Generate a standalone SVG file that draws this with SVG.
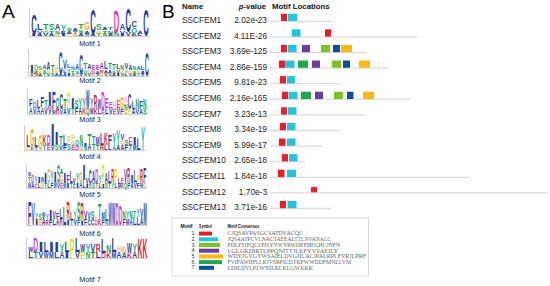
<svg xmlns="http://www.w3.org/2000/svg" width="550" height="286" viewBox="0 0 550 286">
<style>
.logo text{font-family:"Liberation Sans",Arial,sans-serif;font-weight:bold}
.b{fill:#1f3caa}.g{fill:#16a14d}.m{fill:#d03cbe}.r{fill:#e3242b}.o{fill:#f2a61c}.y{fill:#e6dd1c}.t{fill:#22b5a8}.p{fill:#f5b5c6}
.panel{font-family:"Liberation Sans",Arial,sans-serif;font-size:19px;fill:#000}
.logo text.mlab{font-family:"Liberation Sans",Arial,sans-serif;font-size:7.2px;font-weight:normal;fill:#222;text-anchor:middle}
.hdr{font-family:"Liberation Sans",Arial,sans-serif;font-size:7.8px;font-weight:bold;fill:#111}
.nm{font-family:"Liberation Sans",Arial,sans-serif;font-size:8.3px;fill:#222}
.pv{font-family:"Liberation Sans",Arial,sans-serif;font-size:8.3px;fill:#222;text-anchor:end}
.trk{stroke:#dcdcdc;stroke-width:1.3}
.ax{stroke:#9a9a9a;stroke-width:0.5;fill:none}
.lh{font-family:"Liberation Sans",Arial,sans-serif;font-size:5.4px;font-weight:bold;fill:#111}
.ln{font-family:"Liberation Sans",Arial,sans-serif;font-size:5.4px;fill:#333;text-anchor:end}
.lc{font-family:"Liberation Serif","Times New Roman",serif;font-size:6px;fill:#666}
.c1{fill:#ee1c25}.c2{fill:#22c6dc}.c3{fill:#7cc31f}.c4{fill:#6b3fa0}.c5{fill:#fdb913}.c6{fill:#20a84a}.c7{fill:#0b4ea2}
</style>

<text class="panel" x="2" y="18">A</text>
<text class="panel" x="162" y="18">B</text>

<g id="logo-axes">
<path class="ax" d="M29.5 8V36.5H150M28.5 50V76.5H150M27.5 88V114.5H148M24.5 125V150.5H146M26.5 164V188.5H147M26.5 201V225.5H148M26.5 238V258.5H148"/>
</g>

<g id="motif1" class="logo">
<g transform="translate(31,36) scale(0.983,1)">
<text class="b" x="0.2" y="0" font-size="2.8" textLength="5.6" lengthAdjust="spacingAndGlyphs">I</text>
<text class="b" x="0.2" y="-2.3" font-size="28" textLength="5.6" lengthAdjust="spacingAndGlyphs">C</text>
<text class="b" x="6.2" y="0" font-size="2.8" textLength="5.6" lengthAdjust="spacingAndGlyphs">A</text>
<text class="b" x="6.2" y="-2.3" font-size="4.2" textLength="5.6" lengthAdjust="spacingAndGlyphs">V</text>
<text class="b" x="6.2" y="-5.6" font-size="8.4" textLength="5.6" lengthAdjust="spacingAndGlyphs">L</text>
<text class="b" x="12.2" y="0" font-size="2.8" textLength="5.6" lengthAdjust="spacingAndGlyphs">V</text>
<text class="g" x="12.2" y="-2.3" font-size="4.2" textLength="5.6" lengthAdjust="spacingAndGlyphs">Q</text>
<text class="g" x="12.2" y="-5.6" font-size="9.8" textLength="5.6" lengthAdjust="spacingAndGlyphs">T</text>
<text class="b" x="18.2" y="0" font-size="2.8" textLength="5.6" lengthAdjust="spacingAndGlyphs">A</text>
<text class="g" x="18.2" y="-2.3" font-size="4.2" textLength="5.6" lengthAdjust="spacingAndGlyphs">T</text>
<text class="g" x="18.2" y="-5.6" font-size="9.8" textLength="5.6" lengthAdjust="spacingAndGlyphs">S</text>
<text class="o" x="24.2" y="0" font-size="2.8" textLength="5.6" lengthAdjust="spacingAndGlyphs">G</text>
<text class="g" x="24.2" y="-2.3" font-size="4.2" textLength="5.6" lengthAdjust="spacingAndGlyphs">S</text>
<text class="b" x="24.2" y="-5.6" font-size="9.8" textLength="5.6" lengthAdjust="spacingAndGlyphs">A</text>
<text class="b" x="30.2" y="0" font-size="2.8" textLength="5.6" lengthAdjust="spacingAndGlyphs">I</text>
<text class="b" x="30.2" y="-2.3" font-size="2.8" textLength="5.6" lengthAdjust="spacingAndGlyphs">F</text>
<text class="t" x="30.2" y="-4.6" font-size="8.4" textLength="5.6" lengthAdjust="spacingAndGlyphs">Y</text>
<text class="y" x="36.2" y="0" font-size="2.8" textLength="5.6" lengthAdjust="spacingAndGlyphs">P</text>
<text class="b" x="36.2" y="-2.3" font-size="2.8" textLength="5.6" lengthAdjust="spacingAndGlyphs">A</text>
<text class="g" x="36.2" y="-4.6" font-size="4.2" textLength="5.6" lengthAdjust="spacingAndGlyphs">S</text>
<text class="o" x="42.2" y="0" font-size="2.8" textLength="5.6" lengthAdjust="spacingAndGlyphs">G</text>
<text class="g" x="42.2" y="-2.3" font-size="2.8" textLength="5.6" lengthAdjust="spacingAndGlyphs">T</text>
<text class="b" x="42.2" y="-4.6" font-size="4.2" textLength="5.6" lengthAdjust="spacingAndGlyphs">A</text>
<text class="b" x="48.2" y="0" font-size="4.2" textLength="5.6" lengthAdjust="spacingAndGlyphs">A</text>
<text class="g" x="48.2" y="-3.3" font-size="4.2" textLength="5.6" lengthAdjust="spacingAndGlyphs">S</text>
<text class="g" x="48.2" y="-6.6" font-size="7" textLength="5.6" lengthAdjust="spacingAndGlyphs">T</text>
<text class="g" x="54.2" y="0" font-size="2.8" textLength="5.6" lengthAdjust="spacingAndGlyphs">S</text>
<text class="b" x="54.2" y="-2.3" font-size="4.2" textLength="5.6" lengthAdjust="spacingAndGlyphs">A</text>
<text class="o" x="54.2" y="-5.6" font-size="11.2" textLength="5.6" lengthAdjust="spacingAndGlyphs">G</text>
<text class="b" x="60.2" y="0" font-size="2.8" textLength="5.6" lengthAdjust="spacingAndGlyphs">A</text>
<text class="b" x="60.2" y="-2.3" font-size="35" textLength="5.6" lengthAdjust="spacingAndGlyphs">C</text>
<text class="g" x="66.2" y="0" font-size="2.8" textLength="5.6" lengthAdjust="spacingAndGlyphs">T</text>
<text class="o" x="66.2" y="-2.3" font-size="4.2" textLength="5.6" lengthAdjust="spacingAndGlyphs">G</text>
<text class="g" x="66.2" y="-5.6" font-size="8.4" textLength="5.6" lengthAdjust="spacingAndGlyphs">S</text>
<text class="g" x="72.2" y="0" font-size="2.8" textLength="5.6" lengthAdjust="spacingAndGlyphs">S</text>
<text class="g" x="72.2" y="-2.3" font-size="4.2" textLength="5.6" lengthAdjust="spacingAndGlyphs">T</text>
<text class="b" x="72.2" y="-5.6" font-size="4.2" textLength="5.6" lengthAdjust="spacingAndGlyphs">A</text>
<text class="b" x="78.2" y="0" font-size="2.8" textLength="5.6" lengthAdjust="spacingAndGlyphs">A</text>
<text class="g" x="78.2" y="-2.3" font-size="4.2" textLength="5.6" lengthAdjust="spacingAndGlyphs">N</text>
<text class="g" x="78.2" y="-5.6" font-size="4.2" textLength="5.6" lengthAdjust="spacingAndGlyphs">T</text>
<text class="g" x="84.2" y="0" font-size="4.2" textLength="5.6" lengthAdjust="spacingAndGlyphs">N</text>
<text class="m" x="84.2" y="-3.3" font-size="30.8" textLength="5.6" lengthAdjust="spacingAndGlyphs">D</text>
<text class="b" x="90.2" y="0" font-size="2.8" textLength="5.6" lengthAdjust="spacingAndGlyphs">I</text>
<text class="b" x="90.2" y="-2.3" font-size="4.2" textLength="5.6" lengthAdjust="spacingAndGlyphs">V</text>
<text class="b" x="90.2" y="-5.6" font-size="8.4" textLength="5.6" lengthAdjust="spacingAndGlyphs">A</text>
<text class="b" x="96.2" y="0" font-size="5.6" textLength="5.6" lengthAdjust="spacingAndGlyphs">V</text>
<text class="b" x="96.2" y="-4.3" font-size="33.6" textLength="5.6" lengthAdjust="spacingAndGlyphs">C</text>
<text class="b" x="102.2" y="0" font-size="4.2" textLength="5.6" lengthAdjust="spacingAndGlyphs">L</text>
<text class="g" x="102.2" y="-3.3" font-size="7" textLength="5.6" lengthAdjust="spacingAndGlyphs">Q</text>
<text class="b" x="102.2" y="-8.6" font-size="8.4" textLength="5.6" lengthAdjust="spacingAndGlyphs">C</text>
<text class="b" x="108.2" y="0" font-size="2.8" textLength="5.6" lengthAdjust="spacingAndGlyphs">L</text>
<text class="b" x="108.2" y="-2.3" font-size="4.2" textLength="5.6" lengthAdjust="spacingAndGlyphs">A</text>
<text class="b" x="114.2" y="0" font-size="36.4" textLength="5.6" lengthAdjust="spacingAndGlyphs">C</text>
</g>
<text class="mlab" x="90" y="46">Motif 1</text>
</g>

<g id="motif2" class="logo">
<g transform="translate(30,76) scale(0.683,1)">
<text class="b" x="0.2" y="0" font-size="4.2" textLength="5.6" lengthAdjust="spacingAndGlyphs">V</text>
<text class="b" x="0.2" y="-3.3" font-size="11.2" textLength="5.6" lengthAdjust="spacingAndGlyphs">I</text>
<text class="g" x="6.2" y="0" font-size="2.8" textLength="5.6" lengthAdjust="spacingAndGlyphs">N</text>
<text class="r" x="6.2" y="-2.3" font-size="4.2" textLength="5.6" lengthAdjust="spacingAndGlyphs">K</text>
<text class="g" x="6.2" y="-5.6" font-size="7" textLength="5.6" lengthAdjust="spacingAndGlyphs">Q</text>
<text class="b" x="12.2" y="0" font-size="2.8" textLength="5.6" lengthAdjust="spacingAndGlyphs">A</text>
<text class="o" x="12.2" y="-2.3" font-size="4.2" textLength="5.6" lengthAdjust="spacingAndGlyphs">G</text>
<text class="g" x="12.2" y="-5.6" font-size="5.6" textLength="5.6" lengthAdjust="spacingAndGlyphs">S</text>
<text class="g" x="18.2" y="0" font-size="4.2" textLength="5.6" lengthAdjust="spacingAndGlyphs">T</text>
<text class="g" x="18.2" y="-3.3" font-size="4.2" textLength="5.6" lengthAdjust="spacingAndGlyphs">S</text>
<text class="b" x="18.2" y="-6.6" font-size="5.6" textLength="5.6" lengthAdjust="spacingAndGlyphs">A</text>
<text class="b" x="24.2" y="0" font-size="2.8" textLength="5.6" lengthAdjust="spacingAndGlyphs">V</text>
<text class="o" x="24.2" y="-2.3" font-size="4.2" textLength="5.6" lengthAdjust="spacingAndGlyphs">G</text>
<text class="b" x="24.2" y="-5.6" font-size="11.2" textLength="5.6" lengthAdjust="spacingAndGlyphs">A</text>
<text class="g" x="30.2" y="0" font-size="4.2" textLength="5.6" lengthAdjust="spacingAndGlyphs">S</text>
<text class="g" x="30.2" y="-3.3" font-size="11.2" textLength="5.6" lengthAdjust="spacingAndGlyphs">T</text>
<text class="b" x="36.2" y="0" font-size="2.8" textLength="5.6" lengthAdjust="spacingAndGlyphs">A</text>
<text class="y" x="36.2" y="-2.3" font-size="4.2" textLength="5.6" lengthAdjust="spacingAndGlyphs">P</text>
<text class="o" x="36.2" y="-5.6" font-size="4.2" textLength="5.6" lengthAdjust="spacingAndGlyphs">G</text>
<text class="b" x="42.2" y="0" font-size="2.8" textLength="5.6" lengthAdjust="spacingAndGlyphs">A</text>
<text class="b" x="42.2" y="-2.3" font-size="30.8" textLength="5.6" lengthAdjust="spacingAndGlyphs">C</text>
<text class="b" x="48.2" y="0" font-size="4.2" textLength="5.6" lengthAdjust="spacingAndGlyphs">A</text>
<text class="b" x="48.2" y="-3.3" font-size="4.2" textLength="5.6" lengthAdjust="spacingAndGlyphs">L</text>
<text class="b" x="48.2" y="-6.6" font-size="12.6" textLength="5.6" lengthAdjust="spacingAndGlyphs">V</text>
<text class="b" x="54.2" y="0" font-size="4.2" textLength="5.6" lengthAdjust="spacingAndGlyphs">I</text>
<text class="t" x="54.2" y="-3.3" font-size="5.6" textLength="5.6" lengthAdjust="spacingAndGlyphs">Y</text>
<text class="b" x="54.2" y="-7.6" font-size="5.6" textLength="5.6" lengthAdjust="spacingAndGlyphs">L</text>
<text class="g" x="60.2" y="0" font-size="2.8" textLength="5.6" lengthAdjust="spacingAndGlyphs">S</text>
<text class="g" x="60.2" y="-2.3" font-size="4.2" textLength="5.6" lengthAdjust="spacingAndGlyphs">T</text>
<text class="g" x="60.2" y="-5.6" font-size="5.6" textLength="5.6" lengthAdjust="spacingAndGlyphs">N</text>
<text class="o" x="66.2" y="0" font-size="2.8" textLength="5.6" lengthAdjust="spacingAndGlyphs">G</text>
<text class="g" x="66.2" y="-2.3" font-size="4.2" textLength="5.6" lengthAdjust="spacingAndGlyphs">S</text>
<text class="b" x="66.2" y="-5.6" font-size="9.8" textLength="5.6" lengthAdjust="spacingAndGlyphs">A</text>
<text class="b" x="72.2" y="0" font-size="2.8" textLength="5.6" lengthAdjust="spacingAndGlyphs">V</text>
<text class="b" x="72.2" y="-2.3" font-size="28" textLength="5.6" lengthAdjust="spacingAndGlyphs">C</text>
<text class="g" x="78.2" y="0" font-size="4.2" textLength="5.6" lengthAdjust="spacingAndGlyphs">S</text>
<text class="g" x="78.2" y="-3.3" font-size="4.2" textLength="5.6" lengthAdjust="spacingAndGlyphs">Q</text>
<text class="g" x="78.2" y="-6.6" font-size="8.4" textLength="5.6" lengthAdjust="spacingAndGlyphs">T</text>
<text class="b" x="84.2" y="0" font-size="4.2" textLength="5.6" lengthAdjust="spacingAndGlyphs">V</text>
<text class="o" x="84.2" y="-3.3" font-size="4.2" textLength="5.6" lengthAdjust="spacingAndGlyphs">G</text>
<text class="b" x="84.2" y="-6.6" font-size="7" textLength="5.6" lengthAdjust="spacingAndGlyphs">A</text>
<text class="o" x="90.2" y="0" font-size="2.8" textLength="5.6" lengthAdjust="spacingAndGlyphs">G</text>
<text class="m" x="90.2" y="-2.3" font-size="4.2" textLength="5.6" lengthAdjust="spacingAndGlyphs">D</text>
<text class="m" x="90.2" y="-5.6" font-size="7" textLength="5.6" lengthAdjust="spacingAndGlyphs">E</text>
<text class="g" x="96.2" y="0" font-size="2.8" textLength="5.6" lengthAdjust="spacingAndGlyphs">S</text>
<text class="b" x="96.2" y="-2.3" font-size="4.2" textLength="5.6" lengthAdjust="spacingAndGlyphs">A</text>
<text class="m" x="96.2" y="-5.6" font-size="7" textLength="5.6" lengthAdjust="spacingAndGlyphs">E</text>
<text class="o" x="102.2" y="0" font-size="4.2" textLength="5.6" lengthAdjust="spacingAndGlyphs">G</text>
<text class="r" x="102.2" y="-3.3" font-size="4.2" textLength="5.6" lengthAdjust="spacingAndGlyphs">R</text>
<text class="b" x="102.2" y="-6.6" font-size="9.8" textLength="5.6" lengthAdjust="spacingAndGlyphs">A</text>
<text class="b" x="108.2" y="0" font-size="4.2" textLength="5.6" lengthAdjust="spacingAndGlyphs">V</text>
<text class="b" x="108.2" y="-3.3" font-size="4.2" textLength="5.6" lengthAdjust="spacingAndGlyphs">A</text>
<text class="b" x="108.2" y="-6.6" font-size="11.2" textLength="5.6" lengthAdjust="spacingAndGlyphs">L</text>
<text class="g" x="114.2" y="0" font-size="4.2" textLength="5.6" lengthAdjust="spacingAndGlyphs">S</text>
<text class="b" x="114.2" y="-3.3" font-size="4.2" textLength="5.6" lengthAdjust="spacingAndGlyphs">A</text>
<text class="g" x="114.2" y="-6.6" font-size="8.4" textLength="5.6" lengthAdjust="spacingAndGlyphs">T</text>
<text class="b" x="120.2" y="0" font-size="2.8" textLength="5.6" lengthAdjust="spacingAndGlyphs">A</text>
<text class="g" x="120.2" y="-2.3" font-size="4.2" textLength="5.6" lengthAdjust="spacingAndGlyphs">S</text>
<text class="g" x="120.2" y="-5.6" font-size="8.4" textLength="5.6" lengthAdjust="spacingAndGlyphs">T</text>
<text class="b" x="126.2" y="0" font-size="4.2" textLength="5.6" lengthAdjust="spacingAndGlyphs">I</text>
<text class="b" x="126.2" y="-3.3" font-size="4.2" textLength="5.6" lengthAdjust="spacingAndGlyphs">V</text>
<text class="b" x="126.2" y="-6.6" font-size="7" textLength="5.6" lengthAdjust="spacingAndGlyphs">L</text>
<text class="g" x="132.2" y="0" font-size="2.8" textLength="5.6" lengthAdjust="spacingAndGlyphs">S</text>
<text class="o" x="132.2" y="-2.3" font-size="4.2" textLength="5.6" lengthAdjust="spacingAndGlyphs">G</text>
<text class="g" x="132.2" y="-5.6" font-size="7" textLength="5.6" lengthAdjust="spacingAndGlyphs">N</text>
<text class="b" x="138.2" y="0" font-size="4.2" textLength="5.6" lengthAdjust="spacingAndGlyphs">L</text>
<text class="t" x="138.2" y="-3.3" font-size="4.2" textLength="5.6" lengthAdjust="spacingAndGlyphs">Y</text>
<text class="b" x="138.2" y="-6.6" font-size="9.8" textLength="5.6" lengthAdjust="spacingAndGlyphs">V</text>
<text class="b" x="144.2" y="0" font-size="2.8" textLength="5.6" lengthAdjust="spacingAndGlyphs">V</text>
<text class="o" x="144.2" y="-2.3" font-size="4.2" textLength="5.6" lengthAdjust="spacingAndGlyphs">G</text>
<text class="b" x="144.2" y="-5.6" font-size="7" textLength="5.6" lengthAdjust="spacingAndGlyphs">A</text>
<text class="b" x="150.2" y="0" font-size="2.8" textLength="5.6" lengthAdjust="spacingAndGlyphs">A</text>
<text class="g" x="150.2" y="-2.3" font-size="4.2" textLength="5.6" lengthAdjust="spacingAndGlyphs">S</text>
<text class="g" x="150.2" y="-5.6" font-size="5.6" textLength="5.6" lengthAdjust="spacingAndGlyphs">N</text>
<text class="g" x="156.2" y="0" font-size="2.8" textLength="5.6" lengthAdjust="spacingAndGlyphs">T</text>
<text class="o" x="156.2" y="-2.3" font-size="4.2" textLength="5.6" lengthAdjust="spacingAndGlyphs">G</text>
<text class="b" x="156.2" y="-5.6" font-size="5.6" textLength="5.6" lengthAdjust="spacingAndGlyphs">A</text>
<text class="b" x="162.2" y="0" font-size="2.8" textLength="5.6" lengthAdjust="spacingAndGlyphs">V</text>
<text class="b" x="162.2" y="-2.3" font-size="4.2" textLength="5.6" lengthAdjust="spacingAndGlyphs">I</text>
<text class="b" x="162.2" y="-5.6" font-size="5.6" textLength="5.6" lengthAdjust="spacingAndGlyphs">L</text>
<text class="b" x="168.2" y="0" font-size="33.6" textLength="5.6" lengthAdjust="spacingAndGlyphs">C</text>
</g>
<text class="mlab" x="90" y="83">Motif 2</text>
</g>

<g id="motif3" class="logo">
<g transform="translate(29,114) scale(0.633,1)">
<text class="b" x="0.2" y="0" font-size="9.8" textLength="5.6" lengthAdjust="spacingAndGlyphs">A</text>
<text class="b" x="0.2" y="-7.3" font-size="11.2" textLength="5.6" lengthAdjust="spacingAndGlyphs">F</text>
<text class="b" x="6.2" y="0" font-size="8.4" textLength="5.6" lengthAdjust="spacingAndGlyphs">V</text>
<text class="m" x="6.2" y="-6.3" font-size="9.8" textLength="5.6" lengthAdjust="spacingAndGlyphs">D</text>
<text class="b" x="12.2" y="0" font-size="8.4" textLength="5.6" lengthAdjust="spacingAndGlyphs">A</text>
<text class="b" x="12.2" y="-6.3" font-size="11.2" textLength="5.6" lengthAdjust="spacingAndGlyphs">L</text>
<text class="b" x="18.2" y="0" font-size="9.8" textLength="5.6" lengthAdjust="spacingAndGlyphs">A</text>
<text class="b" x="18.2" y="-7.3" font-size="14" textLength="5.6" lengthAdjust="spacingAndGlyphs">F</text>
<text class="b" x="24.2" y="0" font-size="8.4" textLength="5.6" lengthAdjust="spacingAndGlyphs">V</text>
<text class="g" x="24.2" y="-6.3" font-size="11.2" textLength="5.6" lengthAdjust="spacingAndGlyphs">T</text>
<text class="b" x="30.2" y="0" font-size="11.2" textLength="5.6" lengthAdjust="spacingAndGlyphs">V</text>
<text class="b" x="30.2" y="-8.3" font-size="19.6" textLength="5.6" lengthAdjust="spacingAndGlyphs">I</text>
<text class="b" x="36.2" y="0" font-size="5.6" textLength="5.6" lengthAdjust="spacingAndGlyphs">W</text>
<text class="b" x="36.2" y="-4.3" font-size="25.2" textLength="5.6" lengthAdjust="spacingAndGlyphs">F</text>
<text class="r" x="42.2" y="0" font-size="8.4" textLength="5.6" lengthAdjust="spacingAndGlyphs">R</text>
<text class="g" x="42.2" y="-6.3" font-size="14" textLength="5.6" lengthAdjust="spacingAndGlyphs">Q</text>
<text class="b" x="48.2" y="0" font-size="7" textLength="5.6" lengthAdjust="spacingAndGlyphs">V</text>
<text class="b" x="48.2" y="-5.3" font-size="22.4" textLength="5.6" lengthAdjust="spacingAndGlyphs">C</text>
<text class="b" x="54.2" y="0" font-size="7" textLength="5.6" lengthAdjust="spacingAndGlyphs">A</text>
<text class="g" x="54.2" y="-5.3" font-size="14" textLength="5.6" lengthAdjust="spacingAndGlyphs">T</text>
<text class="b" x="60.2" y="0" font-size="8.4" textLength="5.6" lengthAdjust="spacingAndGlyphs">V</text>
<text class="y" x="60.2" y="-6.3" font-size="22.4" textLength="5.6" lengthAdjust="spacingAndGlyphs">P</text>
<text class="g" x="66.2" y="0" font-size="8.4" textLength="5.6" lengthAdjust="spacingAndGlyphs">T</text>
<text class="b" x="66.2" y="-6.3" font-size="14" textLength="5.6" lengthAdjust="spacingAndGlyphs">I</text>
<text class="b" x="72.2" y="0" font-size="8.4" textLength="5.6" lengthAdjust="spacingAndGlyphs">F</text>
<text class="g" x="72.2" y="-6.3" font-size="11.2" textLength="5.6" lengthAdjust="spacingAndGlyphs">S</text>
<text class="b" x="78.2" y="0" font-size="8.4" textLength="5.6" lengthAdjust="spacingAndGlyphs">A</text>
<text class="t" x="78.2" y="-6.3" font-size="14" textLength="5.6" lengthAdjust="spacingAndGlyphs">Y</text>
<text class="r" x="84.2" y="0" font-size="8.4" textLength="5.6" lengthAdjust="spacingAndGlyphs">K</text>
<text class="t" x="84.2" y="-6.3" font-size="14" textLength="5.6" lengthAdjust="spacingAndGlyphs">Y</text>
<text class="g" x="90.2" y="0" font-size="8.4" textLength="5.6" lengthAdjust="spacingAndGlyphs">Q</text>
<text class="b" x="90.2" y="-6.3" font-size="25.2" textLength="5.6" lengthAdjust="spacingAndGlyphs">W</text>
<text class="b" x="96.2" y="0" font-size="8.4" textLength="5.6" lengthAdjust="spacingAndGlyphs">M</text>
<text class="t" x="96.2" y="-6.3" font-size="14" textLength="5.6" lengthAdjust="spacingAndGlyphs">Y</text>
<text class="r" x="102.2" y="0" font-size="7" textLength="5.6" lengthAdjust="spacingAndGlyphs">K</text>
<text class="r" x="102.2" y="-5.3" font-size="19.6" textLength="5.6" lengthAdjust="spacingAndGlyphs">R</text>
<text class="b" x="108.2" y="0" font-size="7" textLength="5.6" lengthAdjust="spacingAndGlyphs">L</text>
<text class="b" x="108.2" y="-5.3" font-size="14" textLength="5.6" lengthAdjust="spacingAndGlyphs">W</text>
<text class="m" x="114.2" y="0" font-size="5.6" textLength="5.6" lengthAdjust="spacingAndGlyphs">E</text>
<text class="m" x="114.2" y="-4.3" font-size="25.2" textLength="5.6" lengthAdjust="spacingAndGlyphs">D</text>
<text class="b" x="120.2" y="0" font-size="8.4" textLength="5.6" lengthAdjust="spacingAndGlyphs">L</text>
<text class="m" x="120.2" y="-6.3" font-size="14" textLength="5.6" lengthAdjust="spacingAndGlyphs">E</text>
<text class="b" x="126.2" y="0" font-size="8.4" textLength="5.6" lengthAdjust="spacingAndGlyphs">V</text>
<text class="m" x="126.2" y="-6.3" font-size="9.8" textLength="5.6" lengthAdjust="spacingAndGlyphs">E</text>
<text class="m" x="132.2" y="0" font-size="7" textLength="5.6" lengthAdjust="spacingAndGlyphs">E</text>
<text class="p" x="132.2" y="-5.3" font-size="11.2" textLength="5.6" lengthAdjust="spacingAndGlyphs">H</text>
<text class="b" x="138.2" y="0" font-size="8.4" textLength="5.6" lengthAdjust="spacingAndGlyphs">V</text>
<text class="m" x="138.2" y="-6.3" font-size="11.2" textLength="5.6" lengthAdjust="spacingAndGlyphs">E</text>
<text class="b" x="144.2" y="0" font-size="7" textLength="5.6" lengthAdjust="spacingAndGlyphs">F</text>
<text class="o" x="144.2" y="-5.3" font-size="16.8" textLength="5.6" lengthAdjust="spacingAndGlyphs">G</text>
<text class="o" x="150.2" y="0" font-size="5.6" textLength="5.6" lengthAdjust="spacingAndGlyphs">G</text>
<text class="g" x="150.2" y="-4.3" font-size="8.4" textLength="5.6" lengthAdjust="spacingAndGlyphs">N</text>
<text class="p" x="150.2" y="-10.6" font-size="8.4" textLength="5.6" lengthAdjust="spacingAndGlyphs">H</text>
<text class="y" x="156.2" y="0" font-size="7" textLength="5.6" lengthAdjust="spacingAndGlyphs">P</text>
<text class="b" x="156.2" y="-5.3" font-size="22.4" textLength="5.6" lengthAdjust="spacingAndGlyphs">C</text>
<text class="b" x="162.2" y="0" font-size="7" textLength="5.6" lengthAdjust="spacingAndGlyphs">A</text>
<text class="b" x="162.2" y="-5.3" font-size="11.2" textLength="5.6" lengthAdjust="spacingAndGlyphs">L</text>
<text class="b" x="168.2" y="0" font-size="7" textLength="5.6" lengthAdjust="spacingAndGlyphs">V</text>
<text class="g" x="168.2" y="-5.3" font-size="14" textLength="5.6" lengthAdjust="spacingAndGlyphs">N</text>
<text class="b" x="174.2" y="0" font-size="7" textLength="5.6" lengthAdjust="spacingAndGlyphs">A</text>
<text class="b" x="174.2" y="-5.3" font-size="11.2" textLength="5.6" lengthAdjust="spacingAndGlyphs">F</text>
<text class="g" x="180.2" y="0" font-size="7" textLength="5.6" lengthAdjust="spacingAndGlyphs">S</text>
<text class="g" x="180.2" y="-5.3" font-size="14" textLength="5.6" lengthAdjust="spacingAndGlyphs">N</text>
</g>
<text class="mlab" x="90" y="122">Motif 3</text>
</g>

<g id="motif4" class="logo">
<g transform="translate(26,150) scale(0.683,1)">
<text class="y" x="0.2" y="0" font-size="4.2" textLength="5.6" lengthAdjust="spacingAndGlyphs">P</text>
<text class="b" x="0.2" y="-3.3" font-size="16.8" textLength="5.6" lengthAdjust="spacingAndGlyphs">L</text>
<text class="m" x="6.2" y="0" font-size="4.2" textLength="5.6" lengthAdjust="spacingAndGlyphs">E</text>
<text class="o" x="6.2" y="-3.3" font-size="25.2" textLength="5.6" lengthAdjust="spacingAndGlyphs">G</text>
<text class="g" x="12.2" y="0" font-size="4.2" textLength="5.6" lengthAdjust="spacingAndGlyphs">T</text>
<text class="b" x="12.2" y="-3.3" font-size="14" textLength="5.6" lengthAdjust="spacingAndGlyphs">L</text>
<text class="o" x="18.2" y="0" font-size="22.4" textLength="5.6" lengthAdjust="spacingAndGlyphs">G</text>
<text class="g" x="24.2" y="0" font-size="7" textLength="5.6" lengthAdjust="spacingAndGlyphs">T</text>
<text class="r" x="24.2" y="-5.3" font-size="14" textLength="5.6" lengthAdjust="spacingAndGlyphs">K</text>
<text class="m" x="30.2" y="0" font-size="7" textLength="5.6" lengthAdjust="spacingAndGlyphs">E</text>
<text class="m" x="30.2" y="-5.3" font-size="14" textLength="5.6" lengthAdjust="spacingAndGlyphs">D</text>
<text class="b" x="36.2" y="0" font-size="5.6" textLength="5.6" lengthAdjust="spacingAndGlyphs">V</text>
<text class="b" x="36.2" y="-4.3" font-size="30.8" textLength="5.6" lengthAdjust="spacingAndGlyphs">I</text>
<text class="g" x="42.2" y="0" font-size="8.4" textLength="5.6" lengthAdjust="spacingAndGlyphs">S</text>
<text class="b" x="42.2" y="-6.3" font-size="16.8" textLength="5.6" lengthAdjust="spacingAndGlyphs">I</text>
<text class="b" x="48.2" y="0" font-size="7" textLength="5.6" lengthAdjust="spacingAndGlyphs">V</text>
<text class="g" x="48.2" y="-5.3" font-size="12.6" textLength="5.6" lengthAdjust="spacingAndGlyphs">T</text>
<text class="b" x="54.2" y="0" font-size="7" textLength="5.6" lengthAdjust="spacingAndGlyphs">F</text>
<text class="b" x="54.2" y="-5.3" font-size="14" textLength="5.6" lengthAdjust="spacingAndGlyphs">L</text>
<text class="g" x="60.2" y="0" font-size="8.4" textLength="5.6" lengthAdjust="spacingAndGlyphs">S</text>
<text class="y" x="60.2" y="-6.3" font-size="11.2" textLength="5.6" lengthAdjust="spacingAndGlyphs">P</text>
<text class="m" x="66.2" y="0" font-size="7" textLength="5.6" lengthAdjust="spacingAndGlyphs">E</text>
<text class="o" x="66.2" y="-5.3" font-size="5.6" textLength="5.6" lengthAdjust="spacingAndGlyphs">G</text>
<text class="y" x="66.2" y="-9.6" font-size="7" textLength="5.6" lengthAdjust="spacingAndGlyphs">P</text>
<text class="m" x="72.2" y="0" font-size="7" textLength="5.6" lengthAdjust="spacingAndGlyphs">D</text>
<text class="g" x="72.2" y="-5.3" font-size="7" textLength="5.6" lengthAdjust="spacingAndGlyphs">Q</text>
<text class="o" x="78.2" y="0" font-size="4.2" textLength="5.6" lengthAdjust="spacingAndGlyphs">G</text>
<text class="g" x="78.2" y="-3.3" font-size="16.8" textLength="5.6" lengthAdjust="spacingAndGlyphs">N</text>
<text class="g" x="84.2" y="0" font-size="4.2" textLength="5.6" lengthAdjust="spacingAndGlyphs">S</text>
<text class="b" x="84.2" y="-3.3" font-size="5.6" textLength="5.6" lengthAdjust="spacingAndGlyphs">I</text>
<text class="b" x="90.2" y="0" font-size="8.4" textLength="5.6" lengthAdjust="spacingAndGlyphs">A</text>
<text class="g" x="90.2" y="-6.3" font-size="14" textLength="5.6" lengthAdjust="spacingAndGlyphs">T</text>
<text class="g" x="96.2" y="0" font-size="8.4" textLength="5.6" lengthAdjust="spacingAndGlyphs">T</text>
<text class="g" x="96.2" y="-6.3" font-size="11.2" textLength="5.6" lengthAdjust="spacingAndGlyphs">T</text>
<text class="g" x="102.2" y="0" font-size="7" textLength="5.6" lengthAdjust="spacingAndGlyphs">T</text>
<text class="b" x="102.2" y="-5.3" font-size="11.2" textLength="5.6" lengthAdjust="spacingAndGlyphs">M</text>
<text class="r" x="108.2" y="0" font-size="7" textLength="5.6" lengthAdjust="spacingAndGlyphs">R</text>
<text class="b" x="108.2" y="-5.3" font-size="16.8" textLength="5.6" lengthAdjust="spacingAndGlyphs">L</text>
<text class="b" x="114.2" y="0" font-size="7" textLength="5.6" lengthAdjust="spacingAndGlyphs">L</text>
<text class="r" x="114.2" y="-5.3" font-size="16.8" textLength="5.6" lengthAdjust="spacingAndGlyphs">K</text>
<text class="b" x="120.2" y="0" font-size="7" textLength="5.6" lengthAdjust="spacingAndGlyphs">L</text>
<text class="b" x="120.2" y="-5.3" font-size="14" textLength="5.6" lengthAdjust="spacingAndGlyphs">F</text>
<text class="g" x="126.2" y="0" font-size="4.2" textLength="5.6" lengthAdjust="spacingAndGlyphs">S</text>
<text class="t" x="126.2" y="-3.3" font-size="19.6" textLength="5.6" lengthAdjust="spacingAndGlyphs">Y</text>
<text class="b" x="132.2" y="0" font-size="7" textLength="5.6" lengthAdjust="spacingAndGlyphs">A</text>
<text class="t" x="132.2" y="-5.3" font-size="22.4" textLength="5.6" lengthAdjust="spacingAndGlyphs">Y</text>
<text class="b" x="138.2" y="0" font-size="7" textLength="5.6" lengthAdjust="spacingAndGlyphs">A</text>
<text class="o" x="138.2" y="-5.3" font-size="5.6" textLength="5.6" lengthAdjust="spacingAndGlyphs">G</text>
<text class="b" x="138.2" y="-9.6" font-size="8.4" textLength="5.6" lengthAdjust="spacingAndGlyphs">V</text>
<text class="b" x="144.2" y="0" font-size="7" textLength="5.6" lengthAdjust="spacingAndGlyphs">F</text>
<text class="g" x="144.2" y="-5.3" font-size="7" textLength="5.6" lengthAdjust="spacingAndGlyphs">S</text>
<text class="g" x="150.2" y="0" font-size="7" textLength="5.6" lengthAdjust="spacingAndGlyphs">T</text>
<text class="m" x="150.2" y="-5.3" font-size="11.2" textLength="5.6" lengthAdjust="spacingAndGlyphs">E</text>
<text class="b" x="156.2" y="0" font-size="7" textLength="5.6" lengthAdjust="spacingAndGlyphs">M</text>
<text class="b" x="156.2" y="-5.3" font-size="11.2" textLength="5.6" lengthAdjust="spacingAndGlyphs">I</text>
<text class="b" x="162.2" y="0" font-size="16.8" textLength="5.6" lengthAdjust="spacingAndGlyphs">L</text>
<text class="t" x="168.2" y="0" font-size="33.6" textLength="5.6" lengthAdjust="spacingAndGlyphs">Y</text>
</g>
<text class="mlab" x="90" y="159">Motif 4</text>
</g>

<g id="motif5" class="logo">
<g transform="translate(28,188) scale(0.533,1)">
<text class="b" x="0.2" y="0" font-size="7" textLength="5.6" lengthAdjust="spacingAndGlyphs">M</text>
<text class="g" x="0.2" y="-5.3" font-size="8.4" textLength="5.6" lengthAdjust="spacingAndGlyphs">T</text>
<text class="b" x="0.2" y="-11.6" font-size="5.6" textLength="5.6" lengthAdjust="spacingAndGlyphs">W</text>
<text class="b" x="6.2" y="0" font-size="7" textLength="5.6" lengthAdjust="spacingAndGlyphs">A</text>
<text class="m" x="6.2" y="-5.3" font-size="11.2" textLength="5.6" lengthAdjust="spacingAndGlyphs">D</text>
<text class="m" x="12.2" y="0" font-size="5.6" textLength="5.6" lengthAdjust="spacingAndGlyphs">E</text>
<text class="t" x="12.2" y="-4.3" font-size="11.2" textLength="5.6" lengthAdjust="spacingAndGlyphs">Y</text>
<text class="b" x="18.2" y="0" font-size="7" textLength="5.6" lengthAdjust="spacingAndGlyphs">L</text>
<text class="b" x="18.2" y="-5.3" font-size="8.4" textLength="5.6" lengthAdjust="spacingAndGlyphs">I</text>
<text class="o" x="24.2" y="0" font-size="8.4" textLength="5.6" lengthAdjust="spacingAndGlyphs">G</text>
<text class="b" x="24.2" y="-6.3" font-size="7" textLength="5.6" lengthAdjust="spacingAndGlyphs">W</text>
<text class="g" x="30.2" y="0" font-size="7" textLength="5.6" lengthAdjust="spacingAndGlyphs">T</text>
<text class="b" x="30.2" y="-5.3" font-size="14" textLength="5.6" lengthAdjust="spacingAndGlyphs">I</text>
<text class="b" x="36.2" y="0" font-size="7" textLength="5.6" lengthAdjust="spacingAndGlyphs">L</text>
<text class="o" x="36.2" y="-5.3" font-size="19.6" textLength="5.6" lengthAdjust="spacingAndGlyphs">G</text>
<text class="b" x="42.2" y="0" font-size="7" textLength="5.6" lengthAdjust="spacingAndGlyphs">F</text>
<text class="t" x="42.2" y="-5.3" font-size="16.8" textLength="5.6" lengthAdjust="spacingAndGlyphs">Y</text>
<text class="b" x="48.2" y="0" font-size="8.4" textLength="5.6" lengthAdjust="spacingAndGlyphs">W</text>
<text class="b" x="48.2" y="-6.3" font-size="14" textLength="5.6" lengthAdjust="spacingAndGlyphs">I</text>
<text class="b" x="54.2" y="0" font-size="7" textLength="5.6" lengthAdjust="spacingAndGlyphs">V</text>
<text class="g" x="54.2" y="-5.3" font-size="25.2" textLength="5.6" lengthAdjust="spacingAndGlyphs">S</text>
<text class="m" x="60.2" y="0" font-size="7" textLength="5.6" lengthAdjust="spacingAndGlyphs">E</text>
<text class="o" x="60.2" y="-5.3" font-size="11.2" textLength="5.6" lengthAdjust="spacingAndGlyphs">G</text>
<text class="b" x="60.2" y="-13.6" font-size="7" textLength="5.6" lengthAdjust="spacingAndGlyphs">A</text>
<text class="b" x="66.2" y="0" font-size="7" textLength="5.6" lengthAdjust="spacingAndGlyphs">M</text>
<text class="b" x="66.2" y="-5.3" font-size="14" textLength="5.6" lengthAdjust="spacingAndGlyphs">I</text>
<text class="b" x="72.2" y="0" font-size="7" textLength="5.6" lengthAdjust="spacingAndGlyphs">I</text>
<text class="b" x="72.2" y="-5.3" font-size="11.2" textLength="5.6" lengthAdjust="spacingAndGlyphs">F</text>
<text class="g" x="78.2" y="0" font-size="7" textLength="5.6" lengthAdjust="spacingAndGlyphs">T</text>
<text class="b" x="78.2" y="-5.3" font-size="16.8" textLength="5.6" lengthAdjust="spacingAndGlyphs">L</text>
<text class="b" x="84.2" y="0" font-size="5.6" textLength="5.6" lengthAdjust="spacingAndGlyphs">C</text>
<text class="b" x="84.2" y="-4.3" font-size="8.4" textLength="5.6" lengthAdjust="spacingAndGlyphs">V</text>
<text class="b" x="90.2" y="0" font-size="7" textLength="5.6" lengthAdjust="spacingAndGlyphs">I</text>
<text class="t" x="90.2" y="-5.3" font-size="14" textLength="5.6" lengthAdjust="spacingAndGlyphs">Y</text>
<text class="b" x="96.2" y="0" font-size="8.4" textLength="5.6" lengthAdjust="spacingAndGlyphs">A</text>
<text class="o" x="96.2" y="-6.3" font-size="14" textLength="5.6" lengthAdjust="spacingAndGlyphs">G</text>
<text class="b" x="102.2" y="0" font-size="11.2" textLength="5.6" lengthAdjust="spacingAndGlyphs">L</text>
<text class="b" x="102.2" y="-8.3" font-size="22.4" textLength="5.6" lengthAdjust="spacingAndGlyphs">I</text>
<text class="b" x="108.2" y="0" font-size="5.6" textLength="5.6" lengthAdjust="spacingAndGlyphs">I</text>
<text class="b" x="108.2" y="-4.3" font-size="8.4" textLength="5.6" lengthAdjust="spacingAndGlyphs">V</text>
<text class="g" x="114.2" y="0" font-size="5.6" textLength="5.6" lengthAdjust="spacingAndGlyphs">S</text>
<text class="b" x="114.2" y="-4.3" font-size="19.6" textLength="5.6" lengthAdjust="spacingAndGlyphs">C</text>
<text class="g" x="120.2" y="0" font-size="7" textLength="5.6" lengthAdjust="spacingAndGlyphs">S</text>
<text class="b" x="120.2" y="-5.3" font-size="16.8" textLength="5.6" lengthAdjust="spacingAndGlyphs">A</text>
<text class="g" x="126.2" y="0" font-size="7" textLength="5.6" lengthAdjust="spacingAndGlyphs">T</text>
<text class="m" x="126.2" y="-5.3" font-size="19.6" textLength="5.6" lengthAdjust="spacingAndGlyphs">D</text>
<text class="b" x="132.2" y="0" font-size="7" textLength="5.6" lengthAdjust="spacingAndGlyphs">L</text>
<text class="t" x="132.2" y="-5.3" font-size="11.2" textLength="5.6" lengthAdjust="spacingAndGlyphs">Y</text>
<text class="b" x="138.2" y="0" font-size="5.6" textLength="5.6" lengthAdjust="spacingAndGlyphs">I</text>
<text class="y" x="138.2" y="-4.3" font-size="28" textLength="5.6" lengthAdjust="spacingAndGlyphs">P</text>
<text class="g" x="144.2" y="0" font-size="7" textLength="5.6" lengthAdjust="spacingAndGlyphs">S</text>
<text class="b" x="144.2" y="-5.3" font-size="14" textLength="5.6" lengthAdjust="spacingAndGlyphs">A</text>
<text class="g" x="150.2" y="0" font-size="7" textLength="5.6" lengthAdjust="spacingAndGlyphs">T</text>
<text class="b" x="150.2" y="-5.3" font-size="16.8" textLength="5.6" lengthAdjust="spacingAndGlyphs">L</text>
<text class="t" x="156.2" y="0" font-size="7" textLength="5.6" lengthAdjust="spacingAndGlyphs">Y</text>
<text class="r" x="156.2" y="-5.3" font-size="19.6" textLength="5.6" lengthAdjust="spacingAndGlyphs">R</text>
<text class="b" x="162.2" y="0" font-size="7" textLength="5.6" lengthAdjust="spacingAndGlyphs">L</text>
<text class="y" x="162.2" y="-5.3" font-size="19.6" textLength="5.6" lengthAdjust="spacingAndGlyphs">P</text>
<text class="b" x="168.2" y="0" font-size="5.6" textLength="5.6" lengthAdjust="spacingAndGlyphs">M</text>
<text class="b" x="168.2" y="-4.3" font-size="8.4" textLength="5.6" lengthAdjust="spacingAndGlyphs">L</text>
<text class="r" x="174.2" y="0" font-size="5.6" textLength="5.6" lengthAdjust="spacingAndGlyphs">K</text>
<text class="m" x="174.2" y="-4.3" font-size="8.4" textLength="5.6" lengthAdjust="spacingAndGlyphs">E</text>
<text class="g" x="180.2" y="0" font-size="7" textLength="5.6" lengthAdjust="spacingAndGlyphs">Q</text>
<text class="b" x="180.2" y="-5.3" font-size="19.6" textLength="5.6" lengthAdjust="spacingAndGlyphs">V</text>
<text class="b" x="186.2" y="0" font-size="7" textLength="5.6" lengthAdjust="spacingAndGlyphs">F</text>
<text class="r" x="186.2" y="-5.3" font-size="22.4" textLength="5.6" lengthAdjust="spacingAndGlyphs">R</text>
<text class="b" x="192.2" y="0" font-size="7" textLength="5.6" lengthAdjust="spacingAndGlyphs">A</text>
<text class="b" x="192.2" y="-5.3" font-size="11.2" textLength="5.6" lengthAdjust="spacingAndGlyphs">I</text>
<text class="b" x="198.2" y="0" font-size="8.4" textLength="5.6" lengthAdjust="spacingAndGlyphs">V</text>
<text class="b" x="198.2" y="-6.3" font-size="16.8" textLength="5.6" lengthAdjust="spacingAndGlyphs">L</text>
<text class="b" x="204.2" y="0" font-size="7" textLength="5.6" lengthAdjust="spacingAndGlyphs">F</text>
<text class="y" x="204.2" y="-5.3" font-size="11.2" textLength="5.6" lengthAdjust="spacingAndGlyphs">P</text>
<text class="b" x="210.2" y="0" font-size="7" textLength="5.6" lengthAdjust="spacingAndGlyphs">W</text>
<text class="r" x="210.2" y="-5.3" font-size="19.6" textLength="5.6" lengthAdjust="spacingAndGlyphs">R</text>
<text class="o" x="216.2" y="0" font-size="7" textLength="5.6" lengthAdjust="spacingAndGlyphs">G</text>
<text class="b" x="216.2" y="-5.3" font-size="22.4" textLength="5.6" lengthAdjust="spacingAndGlyphs">F</text>
</g>
<text class="mlab" x="90" y="197">Motif 5</text>
</g>

<g id="motif6" class="logo">
<g transform="translate(28,225) scale(0.583,1)">
<text class="b" x="0.2" y="0" font-size="33.6" textLength="5.6" lengthAdjust="spacingAndGlyphs">F</text>
<text class="b" x="6.2" y="0" font-size="30.8" textLength="5.6" lengthAdjust="spacingAndGlyphs">V</text>
<text class="b" x="12.2" y="0" font-size="8.4" textLength="5.6" lengthAdjust="spacingAndGlyphs">I</text>
<text class="t" x="12.2" y="-6.3" font-size="8.4" textLength="5.6" lengthAdjust="spacingAndGlyphs">Y</text>
<text class="o" x="18.2" y="0" font-size="7" textLength="5.6" lengthAdjust="spacingAndGlyphs">G</text>
<text class="g" x="18.2" y="-5.3" font-size="8.4" textLength="5.6" lengthAdjust="spacingAndGlyphs">S</text>
<text class="b" x="24.2" y="0" font-size="11.2" textLength="5.6" lengthAdjust="spacingAndGlyphs">A</text>
<text class="b" x="24.2" y="-8.3" font-size="7" textLength="5.6" lengthAdjust="spacingAndGlyphs">W</text>
<text class="r" x="30.2" y="0" font-size="7" textLength="5.6" lengthAdjust="spacingAndGlyphs">R</text>
<text class="t" x="30.2" y="-5.3" font-size="8.4" textLength="5.6" lengthAdjust="spacingAndGlyphs">Y</text>
<text class="b" x="36.2" y="0" font-size="7" textLength="5.6" lengthAdjust="spacingAndGlyphs">F</text>
<text class="b" x="36.2" y="-5.3" font-size="14" textLength="5.6" lengthAdjust="spacingAndGlyphs">I</text>
<text class="b" x="42.2" y="0" font-size="8.4" textLength="5.6" lengthAdjust="spacingAndGlyphs">L</text>
<text class="b" x="42.2" y="-6.3" font-size="11.2" textLength="5.6" lengthAdjust="spacingAndGlyphs">V</text>
<text class="b" x="48.2" y="0" font-size="8.4" textLength="5.6" lengthAdjust="spacingAndGlyphs">A</text>
<text class="b" x="48.2" y="-6.3" font-size="8.4" textLength="5.6" lengthAdjust="spacingAndGlyphs">F</text>
<text class="r" x="54.2" y="0" font-size="8.4" textLength="5.6" lengthAdjust="spacingAndGlyphs">R</text>
<text class="b" x="54.2" y="-6.3" font-size="14" textLength="5.6" lengthAdjust="spacingAndGlyphs">L</text>
<text class="b" x="60.2" y="0" font-size="25.2" textLength="5.6" lengthAdjust="spacingAndGlyphs">L</text>
<text class="b" x="66.2" y="0" font-size="7" textLength="5.6" lengthAdjust="spacingAndGlyphs">I</text>
<text class="r" x="66.2" y="-5.3" font-size="25.2" textLength="5.6" lengthAdjust="spacingAndGlyphs">R</text>
<text class="g" x="72.2" y="0" font-size="7" textLength="5.6" lengthAdjust="spacingAndGlyphs">T</text>
<text class="b" x="72.2" y="-5.3" font-size="11.2" textLength="5.6" lengthAdjust="spacingAndGlyphs">L</text>
<text class="b" x="78.2" y="0" font-size="8.4" textLength="5.6" lengthAdjust="spacingAndGlyphs">V</text>
<text class="t" x="78.2" y="-6.3" font-size="11.2" textLength="5.6" lengthAdjust="spacingAndGlyphs">Y</text>
<text class="b" x="84.2" y="0" font-size="7" textLength="5.6" lengthAdjust="spacingAndGlyphs">F</text>
<text class="g" x="84.2" y="-5.3" font-size="25.2" textLength="5.6" lengthAdjust="spacingAndGlyphs">S</text>
<text class="b" x="90.2" y="0" font-size="5.6" textLength="5.6" lengthAdjust="spacingAndGlyphs">I</text>
<text class="r" x="90.2" y="-4.3" font-size="25.2" textLength="5.6" lengthAdjust="spacingAndGlyphs">R</text>
<text class="b" x="96.2" y="0" font-size="8.4" textLength="5.6" lengthAdjust="spacingAndGlyphs">F</text>
<text class="b" x="96.2" y="-6.3" font-size="11.2" textLength="5.6" lengthAdjust="spacingAndGlyphs">V</text>
<text class="b" x="102.2" y="0" font-size="7" textLength="5.6" lengthAdjust="spacingAndGlyphs">C</text>
<text class="b" x="102.2" y="-5.3" font-size="11.2" textLength="5.6" lengthAdjust="spacingAndGlyphs">V</text>
<text class="b" x="108.2" y="0" font-size="8.4" textLength="5.6" lengthAdjust="spacingAndGlyphs">C</text>
<text class="g" x="108.2" y="-6.3" font-size="11.2" textLength="5.6" lengthAdjust="spacingAndGlyphs">S</text>
<text class="m" x="114.2" y="0" font-size="7" textLength="5.6" lengthAdjust="spacingAndGlyphs">D</text>
<text class="p" x="114.2" y="-5.3" font-size="7" textLength="5.6" lengthAdjust="spacingAndGlyphs">H</text>
<text class="r" x="120.2" y="0" font-size="8.4" textLength="5.6" lengthAdjust="spacingAndGlyphs">K</text>
<text class="g" x="120.2" y="-6.3" font-size="22.4" textLength="5.6" lengthAdjust="spacingAndGlyphs">T</text>
<text class="b" x="126.2" y="0" font-size="7" textLength="5.6" lengthAdjust="spacingAndGlyphs">F</text>
<text class="b" x="126.2" y="-5.3" font-size="11.2" textLength="5.6" lengthAdjust="spacingAndGlyphs">M</text>
<text class="g" x="132.2" y="0" font-size="5.6" textLength="5.6" lengthAdjust="spacingAndGlyphs">N</text>
<text class="b" x="132.2" y="-4.3" font-size="16.8" textLength="5.6" lengthAdjust="spacingAndGlyphs">L</text>
<text class="b" x="138.2" y="0" font-size="30.8" textLength="5.6" lengthAdjust="spacingAndGlyphs">W</text>
<text class="b" x="144.2" y="0" font-size="30.8" textLength="5.6" lengthAdjust="spacingAndGlyphs">W</text>
<text class="m" x="150.2" y="0" font-size="30.8" textLength="5.6" lengthAdjust="spacingAndGlyphs">D</text>
<text class="m" x="156.2" y="0" font-size="28" textLength="5.6" lengthAdjust="spacingAndGlyphs">D</text>
<text class="b" x="162.2" y="0" font-size="8.4" textLength="5.6" lengthAdjust="spacingAndGlyphs">F</text>
<text class="g" x="162.2" y="-6.3" font-size="11.2" textLength="5.6" lengthAdjust="spacingAndGlyphs">N</text>
<text class="b" x="168.2" y="0" font-size="8.4" textLength="5.6" lengthAdjust="spacingAndGlyphs">M</text>
<text class="t" x="168.2" y="-6.3" font-size="11.2" textLength="5.6" lengthAdjust="spacingAndGlyphs">Y</text>
<text class="b" x="174.2" y="0" font-size="8.4" textLength="5.6" lengthAdjust="spacingAndGlyphs">A</text>
<text class="g" x="174.2" y="-6.3" font-size="11.2" textLength="5.6" lengthAdjust="spacingAndGlyphs">N</text>
<text class="b" x="180.2" y="0" font-size="11.2" textLength="5.6" lengthAdjust="spacingAndGlyphs">L</text>
<text class="g" x="180.2" y="-8.3" font-size="8.4" textLength="5.6" lengthAdjust="spacingAndGlyphs">T</text>
<text class="b" x="186.2" y="0" font-size="11.2" textLength="5.6" lengthAdjust="spacingAndGlyphs">L</text>
<text class="t" x="186.2" y="-8.3" font-size="11.2" textLength="5.6" lengthAdjust="spacingAndGlyphs">Y</text>
<text class="b" x="192.2" y="0" font-size="11.2" textLength="5.6" lengthAdjust="spacingAndGlyphs">A</text>
<text class="b" x="192.2" y="-8.3" font-size="11.2" textLength="5.6" lengthAdjust="spacingAndGlyphs">V</text>
<text class="b" x="198.2" y="0" font-size="30.8" textLength="5.6" lengthAdjust="spacingAndGlyphs">M</text>
</g>
<text class="mlab" x="90" y="236">Motif 6</text>
</g>

<g id="motif7" class="logo">
<g transform="translate(28,258) scale(0.867,1)">
<text class="b" x="0.2" y="0" font-size="8.4" textLength="5.6" lengthAdjust="spacingAndGlyphs">L</text>
<text class="b" x="0.2" y="-6.3" font-size="7" textLength="5.6" lengthAdjust="spacingAndGlyphs">W</text>
<text class="g" x="6.2" y="0" font-size="8.4" textLength="5.6" lengthAdjust="spacingAndGlyphs">T</text>
<text class="m" x="6.2" y="-6.3" font-size="19.6" textLength="5.6" lengthAdjust="spacingAndGlyphs">D</text>
<text class="b" x="12.2" y="0" font-size="8.4" textLength="5.6" lengthAdjust="spacingAndGlyphs">V</text>
<text class="b" x="12.2" y="-6.3" font-size="14" textLength="5.6" lengthAdjust="spacingAndGlyphs">I</text>
<text class="b" x="18.2" y="0" font-size="8.4" textLength="5.6" lengthAdjust="spacingAndGlyphs">W</text>
<text class="b" x="18.2" y="-6.3" font-size="14" textLength="5.6" lengthAdjust="spacingAndGlyphs">L</text>
<text class="b" x="24.2" y="0" font-size="8.4" textLength="5.6" lengthAdjust="spacingAndGlyphs">M</text>
<text class="b" x="24.2" y="-6.3" font-size="14" textLength="5.6" lengthAdjust="spacingAndGlyphs">I</text>
<text class="b" x="30.2" y="0" font-size="8.4" textLength="5.6" lengthAdjust="spacingAndGlyphs">L</text>
<text class="b" x="30.2" y="-6.3" font-size="14" textLength="5.6" lengthAdjust="spacingAndGlyphs">I</text>
<text class="b" x="36.2" y="0" font-size="8.4" textLength="5.6" lengthAdjust="spacingAndGlyphs">A</text>
<text class="t" x="36.2" y="-6.3" font-size="11.2" textLength="5.6" lengthAdjust="spacingAndGlyphs">Y</text>
<text class="b" x="42.2" y="0" font-size="8.4" textLength="5.6" lengthAdjust="spacingAndGlyphs">I</text>
<text class="b" x="42.2" y="-6.3" font-size="14" textLength="5.6" lengthAdjust="spacingAndGlyphs">L</text>
<text class="y" x="48.2" y="0" font-size="28" textLength="5.6" lengthAdjust="spacingAndGlyphs">P</text>
<text class="b" x="54.2" y="0" font-size="8.4" textLength="5.6" lengthAdjust="spacingAndGlyphs">V</text>
<text class="b" x="54.2" y="-6.3" font-size="19.6" textLength="5.6" lengthAdjust="spacingAndGlyphs">L</text>
<text class="y" x="60.2" y="0" font-size="8.4" textLength="5.6" lengthAdjust="spacingAndGlyphs">P</text>
<text class="b" x="60.2" y="-6.3" font-size="11.2" textLength="5.6" lengthAdjust="spacingAndGlyphs">W</text>
<text class="g" x="66.2" y="0" font-size="8.4" textLength="5.6" lengthAdjust="spacingAndGlyphs">N</text>
<text class="t" x="66.2" y="-6.3" font-size="11.2" textLength="5.6" lengthAdjust="spacingAndGlyphs">Y</text>
<text class="g" x="72.2" y="0" font-size="8.4" textLength="5.6" lengthAdjust="spacingAndGlyphs">T</text>
<text class="b" x="72.2" y="-6.3" font-size="11.2" textLength="5.6" lengthAdjust="spacingAndGlyphs">V</text>
<text class="b" x="78.2" y="0" font-size="8.4" textLength="5.6" lengthAdjust="spacingAndGlyphs">L</text>
<text class="r" x="78.2" y="-6.3" font-size="11.2" textLength="5.6" lengthAdjust="spacingAndGlyphs">R</text>
<text class="m" x="84.2" y="0" font-size="7" textLength="5.6" lengthAdjust="spacingAndGlyphs">D</text>
<text class="b" x="84.2" y="-5.3" font-size="21" textLength="5.6" lengthAdjust="spacingAndGlyphs">L</text>
<text class="r" x="90.2" y="0" font-size="7" textLength="5.6" lengthAdjust="spacingAndGlyphs">K</text>
<text class="g" x="90.2" y="-5.3" font-size="11.2" textLength="5.6" lengthAdjust="spacingAndGlyphs">N</text>
<text class="b" x="96.2" y="0" font-size="8.4" textLength="5.6" lengthAdjust="spacingAndGlyphs">M</text>
<text class="b" x="96.2" y="-6.3" font-size="19.6" textLength="5.6" lengthAdjust="spacingAndGlyphs">L</text>
<text class="b" x="102.2" y="0" font-size="8.4" textLength="5.6" lengthAdjust="spacingAndGlyphs">A</text>
<text class="p" x="102.2" y="-6.3" font-size="8.4" textLength="5.6" lengthAdjust="spacingAndGlyphs">H</text>
<text class="b" x="108.2" y="0" font-size="7" textLength="5.6" lengthAdjust="spacingAndGlyphs">A</text>
<text class="o" x="108.2" y="-5.3" font-size="9.8" textLength="5.6" lengthAdjust="spacingAndGlyphs">G</text>
<text class="r" x="114.2" y="0" font-size="7" textLength="5.6" lengthAdjust="spacingAndGlyphs">K</text>
<text class="b" x="114.2" y="-5.3" font-size="14" textLength="5.6" lengthAdjust="spacingAndGlyphs">W</text>
<text class="b" x="120.2" y="0" font-size="8.4" textLength="5.6" lengthAdjust="spacingAndGlyphs">A</text>
<text class="t" x="120.2" y="-6.3" font-size="11.2" textLength="5.6" lengthAdjust="spacingAndGlyphs">Y</text>
<text class="r" x="126.2" y="0" font-size="28" textLength="5.6" lengthAdjust="spacingAndGlyphs">K</text>
<text class="r" x="132.2" y="0" font-size="28" textLength="5.6" lengthAdjust="spacingAndGlyphs">K</text>
</g>
<text class="mlab" x="90" y="282">Motif 7</text>
</g>

<g id="table-header">
<text class="hdr" x="182" y="9">Name</text>
<text class="hdr" x="266" y="9" text-anchor="end"><tspan font-style="italic">p</tspan>-value</text>
<text class="hdr" x="272" y="9">Motif Locations</text>
</g>

<g id="connectors">
<path class="trk" d="M270 21.3H333M270 36.9H418M270 52.5H367M270 68.1H389M270 83.7H340M270 99.3H410M270 114.9H366M270 130.5H340M270 146.1H322M270 161.7H305M270 177.3H470M270 192.9H548M270 208.5H331"/>
</g>

<g id="SSCFEM1"><text class="nm" x="182" y="23">SSCFEM1</text><text class="pv" x="267" y="23">2.02e-23</text>
<rect class="c1" x="281" y="13.7" width="6" height="7.3"/><rect class="c2" x="288" y="13.7" width="9" height="7.3"/></g>
<g id="SSCFEM2"><text class="nm" x="182" y="38.6">SSCFEM2</text><text class="pv" x="267" y="38.6">4.11E-26</text>
<rect class="c2" x="292" y="29.3" width="8.5" height="7.3"/><rect class="c1" x="325" y="29.3" width="6" height="7.3"/></g>
<g id="SSCFEM3"><text class="nm" x="182" y="54.2">SSCFEM3</text><text class="pv" x="267" y="54.2">3.69e-125</text>
<rect class="c1" x="281" y="44.9" width="6" height="7.3"/><rect class="c2" x="288" y="44.9" width="8.5" height="7.3"/><rect class="c4" x="302" y="44.9" width="8" height="7.3"/><rect class="c3" x="321" y="44.9" width="9" height="7.3"/><rect class="c7" x="333" y="44.9" width="7" height="7.3"/><rect class="c5" x="341" y="44.9" width="11" height="7.3"/></g>
<g id="SSCFEM4"><text class="nm" x="182" y="69.8">SSCFEM4</text><text class="pv" x="267" y="69.8">2.86e-159</text>
<rect class="c1" x="279" y="60.5" width="6.5" height="7.3"/><rect class="c2" x="286" y="60.5" width="8.5" height="7.3"/><rect class="c6" x="298" y="60.5" width="10" height="7.3"/><rect class="c4" x="312" y="60.5" width="8" height="7.3"/><rect class="c3" x="332" y="60.5" width="9" height="7.3"/><rect class="c7" x="343" y="60.5" width="7" height="7.3"/><rect class="c5" x="359" y="60.5" width="11" height="7.3"/></g>
<g id="SSCFEM5"><text class="nm" x="182" y="85.4">SSCFEM5</text><text class="pv" x="267" y="85.4">9.81e-23</text>
<rect class="c1" x="280" y="76.1" width="6" height="7.3"/><rect class="c2" x="287" y="76.1" width="8" height="7.3"/></g>
<g id="SSCFEM6"><text class="nm" x="182" y="101">SSCFEM6</text><text class="pv" x="267" y="101">2.16e-165</text>
<rect class="c1" x="282" y="91.7" width="6" height="7.3"/><rect class="c2" x="288.5" y="91.7" width="9" height="7.3"/><rect class="c6" x="301" y="91.7" width="10" height="7.3"/><rect class="c4" x="315" y="91.7" width="8" height="7.3"/><rect class="c3" x="334" y="91.7" width="9" height="7.3"/><rect class="c7" x="347" y="91.7" width="6.5" height="7.3"/><rect class="c5" x="363" y="91.7" width="11" height="7.3"/></g>
<g id="SSCFEM7"><text class="nm" x="182" y="116.6">SSCFEM7</text><text class="pv" x="267" y="116.6">3.23e-13</text>
<rect class="c1" x="281" y="107.3" width="6" height="7.3"/><rect class="c2" x="288" y="107.3" width="8.5" height="7.3"/></g>
<g id="SSCFEM8"><text class="nm" x="182" y="132.2">SSCFEM8</text><text class="pv" x="267" y="132.2">3.34e-19</text>
<rect class="c1" x="280" y="122.9" width="6" height="7.3"/><rect class="c2" x="287" y="122.9" width="8.5" height="7.3"/></g>
<g id="SSCFEM9"><text class="nm" x="182" y="147.8">SSCFEM9</text><text class="pv" x="267" y="147.8">5.99e-17</text>
<rect class="c1" x="279" y="138.5" width="6.5" height="7.3"/><rect class="c2" x="287" y="138.5" width="8.5" height="7.3"/></g>
<g id="SSCFEM10"><text class="nm" x="182" y="163.4">SSCFEM10</text><text class="pv" x="267" y="163.4">2.65e-18</text>
<rect class="c1" x="282" y="154.1" width="6" height="7.3"/><rect class="c2" x="289" y="154.1" width="8.5" height="7.3"/></g>
<g id="SSCFEM11"><text class="nm" x="182" y="179">SSCFEM11</text><text class="pv" x="267" y="179">1.84e-18</text>
<rect class="c1" x="278" y="169.7" width="6.5" height="7.3"/><rect class="c2" x="287" y="169.7" width="9" height="7.3"/></g>
<g id="SSCFEM12"><text class="nm" x="182" y="194.6">SSCFEM12</text><text class="pv" x="267" y="194.6">1.70e-3</text>
<rect class="c1" x="311" y="187.1" width="6" height="5.2"/></g>
<g id="SSCFEM13"><text class="nm" x="182" y="210.2">SSCFEM13</text><text class="pv" x="267" y="210.2">3.71e-16</text>
<rect class="c1" x="280" y="200.9" width="6" height="7.3"/><rect class="c2" x="287.5" y="200.9" width="9" height="7.3"/></g>

<g id="legend">
<rect x="172" y="218" width="196.5" height="58" fill="#fff" stroke="#cfcfcf" stroke-width="0.8"/>
<text class="lh" x="180.5" y="227.7" textLength="12" lengthAdjust="spacingAndGlyphs">Motif</text>
<text class="lh" x="199" y="227.7" textLength="13" lengthAdjust="spacingAndGlyphs">Symbol</text>
<text class="lh" x="227.5" y="227.7" textLength="32" lengthAdjust="spacingAndGlyphs">Motif Consensus</text>
<text class="ln" x="196" y="235.2">1.</text>
<text class="ln" x="196" y="240.9">2.</text>
<text class="ln" x="196" y="246.6">3.</text>
<text class="ln" x="196" y="252.3">4.</text>
<text class="ln" x="196" y="258">5.</text>
<text class="ln" x="196" y="263.7">6.</text>
<text class="ln" x="196" y="269.4">7.</text>
<rect class="c1" x="199" y="231.6" width="13" height="4"/>
<rect class="c2" x="199" y="237.3" width="19" height="4"/>
<rect class="c3" x="199" y="243" width="21" height="4"/>
<rect class="c4" x="199" y="248.7" width="20" height="4"/>
<rect class="c5" x="199" y="254.4" width="24" height="4"/>
<rect class="c6" x="199" y="260.1" width="23" height="4"/>
<rect class="c7" x="199" y="265.8" width="15" height="4"/>
<text class="lc" x="227.5" y="235.4" textLength="75.5" lengthAdjust="spacingAndGlyphs">CJQSAVPASGCSATDVACQC</text>
<text class="lc" x="227.5" y="241.1" textLength="103.5" lengthAdjust="spacingAndGlyphs">JQSAATPCVLNACTAEEALTTLNVANALC</text>
<text class="lc" x="227.5" y="246.8" textLength="112.5" lengthAdjust="spacingAndGlyphs">FDLFTIFQCTPISYYWYRWDEEHEGHCJNFN</text>
<text class="lc" x="227.5" y="252.5" textLength="110.5" lengthAdjust="spacingAndGlyphs">LGLGKDIRTLPPQNITTJLKFYYVAEILY</text>
<text class="lc" x="227.5" y="258.2" textLength="138.5" lengthAdjust="spacingAndGlyphs">WDYJGVGYWSAIELDVGIICACJPALRPLFVRJLPRF</text>
<text class="lc" x="227.5" y="263.9" textLength="123.5" lengthAdjust="spacingAndGlyphs">FVIFAWIIFLLRJVSRFICDTKFWWDDFMNLLVM</text>
<text class="lc" x="227.5" y="269.6" textLength="85.5" lengthAdjust="spacingAndGlyphs">LDILIIVLPLWNILRLKLGWKKK</text>
</g>
</svg>
